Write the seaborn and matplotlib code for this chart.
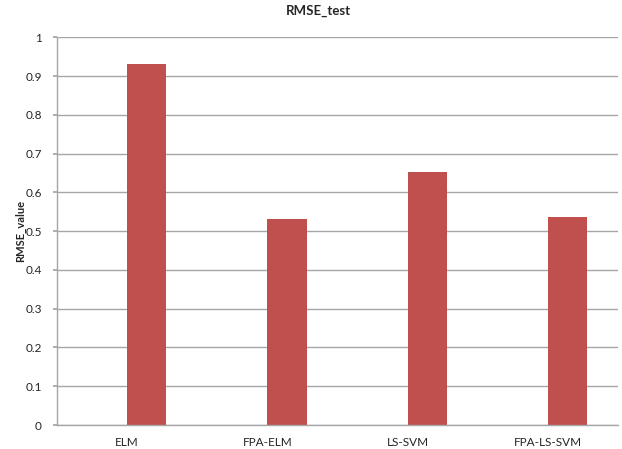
import pandas as pd
import matplotlib
matplotlib.use("Agg")
import matplotlib.pyplot as plt
import seaborn as sns

# ---------- DATA ----------
models = ["ELM", "FPA-ELM", "LS-SVM", "FPA-LS-SVM"]
rmse_test = [0.930, 0.531, 0.652, 0.537]
# the chart reserves an empty first series slot, so bars sit right of centre
empty_series = [0, 0, 0, 0]
y_ticks = [0, 0.1, 0.2, 0.3, 0.4, 0.5, 0.6, 0.7, 0.8, 0.9, 1]
y_tick_labels = ["0", "0.1", "0.2", "0.3", "0.4", "0.5", "0.6", "0.7", "0.8", "0.9", "1"]

df = pd.DataFrame({
    "model": models * 2,
    "value": empty_series + rmse_test,
    "series": ["blank"] * 4 + ["RMSE_test"] * 4,
})

# ---------- STYLE ----------
sns.set_theme(style="white")
plt.rcParams["font.family"] = ["Lato", "DejaVu Sans"]

fig = plt.figure(figsize=(6.22, 4.49), dpi=100)
ax = fig.add_axes([57 / 622, 1 - 425 / 449, (618 - 57) / 622, (425 - 37.3) / 449])

sns.barplot(data=df, x="model", y="value", hue="series",
            hue_order=["blank", "RMSE_test"],
            palette={"blank": "#C0504D", "RMSE_test": "#C0504D"},
            width=0.56, linewidth=0, saturation=1, legend=False, ax=ax)

ax.set_ylim(0, 1)
ax.set_xlim(-0.5, len(models) - 0.5)
ax.set_yticks(y_ticks)
ax.set_yticklabels(y_tick_labels)
ax.set_axisbelow(True)
ax.yaxis.grid(True, color="#A6A6A6", linewidth=1)
ax.xaxis.grid(False)

for side in ["top", "right"]:
    ax.spines[side].set_visible(False)
for side in ["left", "bottom"]:
    ax.spines[side].set_color("#A6A6A6")
    ax.spines[side].set_linewidth(1)

ax.tick_params(axis="y", length=3, color="#A6A6A6", labelsize=8.5, pad=8, left=True)
ax.tick_params(axis="x", length=0, labelsize=8.5, pad=9)
ax.set_xlabel("")
ax.set_ylabel("RMSE_value", fontsize=8, fontweight="bold", labelpad=-1)
fig.suptitle("RMSE_test", x=318 / 622, y=1 - 5 / 449, fontsize=9.5, fontweight="bold")

fig.savefig("out.png", dpi=100)
